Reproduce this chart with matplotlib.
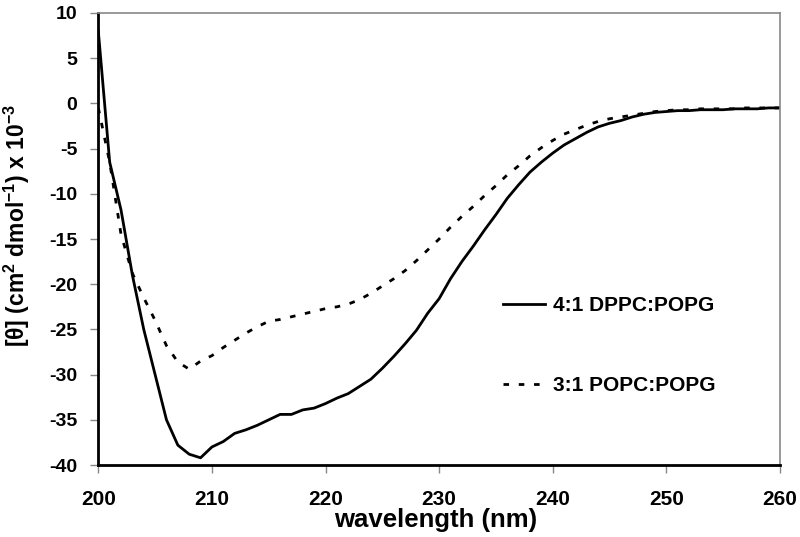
import numpy as np
import matplotlib
matplotlib.use("Agg")
import matplotlib.pyplot as plt

plt.rcParams['font.family'] = ['Liberation Sans', 'DejaVu Sans']
plt.rcParams['mathtext.fontset'] = 'custom'
plt.rcParams['mathtext.rm'] = 'Liberation Sans:bold'
plt.rcParams['mathtext.bf'] = 'Liberation Sans:bold'
plt.rcParams['axes.unicode_minus'] = False

# wavelength (nm)
wavelength = list(range(200, 261))

# 4:1 DPPC:POPG
dppc = [8.0, -6.5, -11.8, -19.0, -25.0, -30.0, -35.0, -37.8, -38.8, -39.2,
        -38.0, -37.4, -36.5, -36.1, -35.6, -35.0, -34.4, -34.4, -33.9, -33.7,
        -33.2, -32.6, -32.1, -31.3, -30.5, -29.3, -28.0, -26.6, -25.1, -23.2,
        -21.6, -19.4, -17.5, -15.8, -14.0, -12.3, -10.5, -9.0, -7.6, -6.5,
        -5.5, -4.6, -3.9, -3.2, -2.6, -2.2, -1.9, -1.5, -1.2, -1.0,
        -0.9, -0.8, -0.8, -0.7, -0.7, -0.7, -0.6, -0.6, -0.6, -0.5, -0.5]

# 3:1 POPC:POPG
popc = [-0.5, -6.5, -14.5, -18.8, -21.5, -24.0, -26.8, -28.6, -29.4, -28.5,
        -27.9, -27.0, -26.2, -25.4, -24.7, -24.1, -23.9, -23.6, -23.3, -23.0,
        -22.7, -22.5, -22.2, -21.7, -21.0, -20.2, -19.4, -18.5, -17.4, -16.2,
        -15.0, -13.7, -12.5, -11.4, -10.2, -9.1, -7.9, -6.9, -5.8, -4.9,
        -4.1, -3.4, -2.9, -2.4, -2.0, -1.7, -1.5, -1.3, -1.1, -0.9,
        -0.8, -0.7, -0.7, -0.6, -0.6, -0.6, -0.6, -0.5, -0.5, -0.5, -0.5]

fig = plt.figure(figsize=(8, 5.37), dpi=100)
ax = fig.add_axes([0.1229, 0.134, 0.852, 0.8418])

ax.plot(wavelength, dppc, color='black', lw=2.0, label='4:1 DPPC:POPG')
ax.plot(wavelength, popc, color='black', lw=2.0, dashes=(2.0, 3.5),
        label='3:1 POPC:POPG')

ax.set_xlim(200, 260)
ax.set_ylim(-40, 10)
ax.set_xticks(range(200, 261, 10))
ax.set_yticks(range(-40, 11, 5))

for s in ['left', 'bottom']:
    ax.spines[s].set_linewidth(2.0)
    ax.spines[s].set_color('black')
for s in ['top', 'right']:
    ax.spines[s].set_linewidth(1.2)
    ax.spines[s].set_color('#888888')

ax.tick_params(axis='both', direction='out', length=6, width=1, color='#888888')
ax.tick_params(axis='y', labelsize=14, pad=9)
ax.tick_params(axis='x', labelsize=15, pad=12)
for lbl in ax.get_xticklabels() + ax.get_yticklabels():
    lbl.set_fontweight('bold')

ax.set_xlabel('wavelength (nm)', fontsize=18.5, fontweight='bold')
ax.xaxis.set_label_coords(0.495, -0.094)
ax.set_ylabel(r'[θ] (cm$^{\mathbf{2}}$ dmol$^{\mathbf{-1}}$) x 10$^{\mathbf{-3}}$',
              fontsize=16.5, fontweight='bold')
ax.yaxis.set_label_coords(-0.098, 0.53)

leg = ax.legend(loc='upper left', bbox_to_anchor=(0.594, 0.373), frameon=False,
                borderpad=0, borderaxespad=0,
                handlelength=2.0, handletextpad=0.4, labelspacing=2.9,
                prop={'weight': 'bold', 'size': 15})

fig.savefig('out.png', dpi=100, facecolor='white')
